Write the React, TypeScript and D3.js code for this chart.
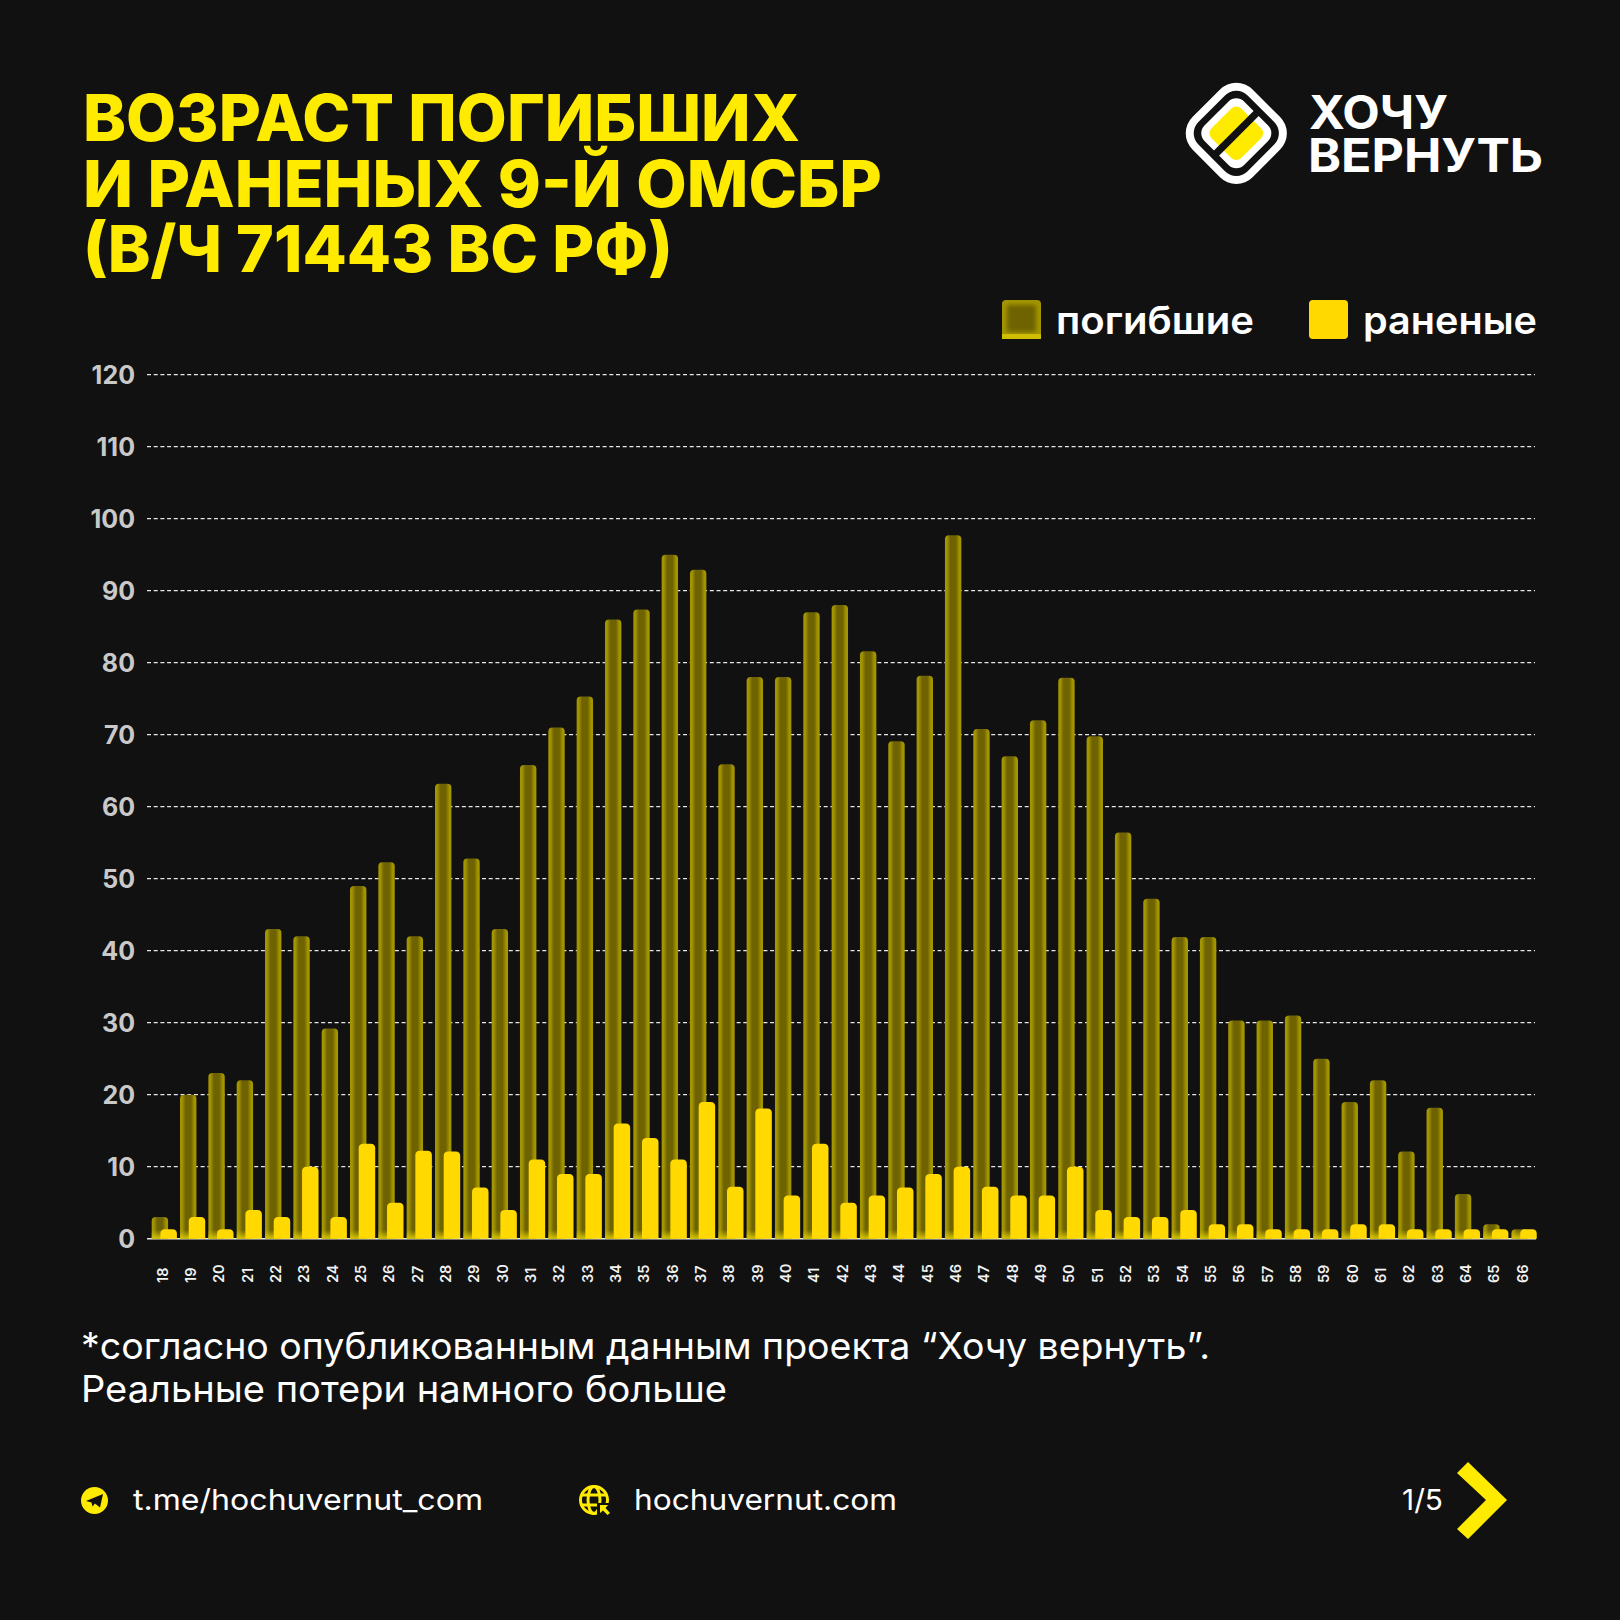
import React from "react";
import * as d3 from "d3";

const ages = d3.range(18, 67).map(String);
const killed = [3,20,23,22,43,42,29.2,49,52.3,42,63.2,52.8,43,65.8,71,75.3,86,87.4,95,92.9,65.9,78,78,87,88,81.6,69.1,78.2,97.7,70.8,67,72,77.9,69.8,56.4,47.2,41.9,41.9,30.3,30.3,31,25,19,22,12.1,18.2,6.2,2,1.3];
const wounded = [1.3,3,1.3,4,3,10,3,13.2,5,12.2,12.1,7.1,4,11,9,9,16,14,11,19,7.2,18.1,6,13.2,5,6,7.1,9,10,7.2,6,6,10,4,3,3,4,2,2,1.3,1.3,1.3,2,2,1.3,1.3,1.3,1.3,1.3];
const yTicks = d3.range(0, 130, 10);
const titleLines = ["ВОЗРАСТ ПОГИБШИХ", "И РАНЕНЫХ 9-Й ОМСБР", "(В/Ч 71443 ВС РФ)"];
const titleWidths = [717, 799, 590];
const noteLines = ["*согласно опубликованным данным проекта “Хочу вернуть”.", "Реальные потери намного больше"];
const noteWidths = [1129, 646];

const BG = "#111111";
const YEL = "#FFEB00";
const BAR = "#FFD900";
const FONT = "Inter, 'Noto Sans', sans-serif";

const x = d3.scaleBand<string>().domain(ages).range([151.7, 151.7 + 28.33 * 49]);
const y = d3.scaleLinear().domain([0, 120]).range([1238.7, 374.7]);

function topRounded(x0: number, y0: number, w: number, h: number, r: number) {
  const rr = Math.min(r, h);
  const p = d3.path();
  p.moveTo(x0, y0 + h);
  p.lineTo(x0, y0 + rr);
  p.quadraticCurveTo(x0, y0, x0 + rr, y0);
  p.lineTo(x0 + w - rr, y0);
  p.quadraticCurveTo(x0 + w, y0, x0 + w, y0 + rr);
  p.lineTo(x0 + w, y0 + h);
  p.closePath();
  return p.toString();
}

function DeadBar({ age, v }: { age: string; v: number }) {
  const X = x(age)!;
  const w = 16.4;
  const top = y(v);
  const h = y(0) - top;
  const d = topRounded(X, top, w, h, 4);
  const fadeH = Math.min(9, h);
  return (
    <g>
      <path d={d} fill="url(#deadH)" />
      <path d={topRounded(X, y(0) - fadeH, w, fadeH, 0)} fill="url(#deadV)" />
    </g>
  );
}

export default function App() {
  return (
    <svg width={1620} height={1620} viewBox="0 0 1620 1620" style={{ position: "absolute", left: 0, top: 0, display: "block", background: BG }}>
      <defs>
        <linearGradient id="deadH" x1="0" x2="1" y1="0" y2="0">
          <stop offset="0" stopColor="#A39500" />
          <stop offset="0.12" stopColor="#A39500" />
          <stop offset="0.34" stopColor="#6E6300" />
          <stop offset="0.66" stopColor="#6E6300" />
          <stop offset="0.88" stopColor="#A39500" />
          <stop offset="1" stopColor="#A39500" />
        </linearGradient>
        <linearGradient id="deadV" x1="0" x2="0" y1="0" y2="1">
          <stop offset="0" stopColor="#C9B800" stopOpacity="0" />
          <stop offset="1" stopColor="#D8C600" stopOpacity="1" />
        </linearGradient>
        <filter id="soft" x="-20%" y="-20%" width="140%" height="140%">
          <feGaussianBlur stdDeviation="2" />
        </filter>
      </defs>
      <rect width={1620} height={1620} fill={BG} />

      {titleLines.map((t, i) => (
        <text key={t} x={83} y={141 + i * 65.7} fill={YEL} fontFamily={FONT} fontWeight={800} fontSize={65} textLength={titleWidths[i]} lengthAdjust="spacingAndGlyphs">{t}</text>
      ))}

      {/* logo */}
      <g transform="translate(1236.3 133.3) rotate(-45)">
        <rect x={-42.5} y={-42.5} width={85} height={85} rx={23} fill="#fff" />
        <rect x={-34.8} y={-34.8} width={69.6} height={69.6} rx={16} fill="#111" />
        <rect x={-28} y={-28} width={56} height={56} rx={11} fill="#fff" />
        <rect x={-21} y={-21} width={42} height={42} rx={7} fill={YEL} />
        <rect x={-33} y={-3.6} width={66} height={7.2} fill="#111" />
      </g>
      <text x={1309} y={128.5} fill="#fff" fontFamily={FONT} fontWeight={700} fontSize={46} textLength={139} lengthAdjust="spacingAndGlyphs">ХОЧУ</text>
      <text x={1308} y={172} fill="#fff" fontFamily={FONT} fontWeight={700} fontSize={46} textLength={235} lengthAdjust="spacingAndGlyphs">ВЕРНУТЬ</text>

      {/* legend */}
      <rect x={1002} y={300} width={39} height={39} rx={4} fill="#A39500" />
      <rect x={1007} y={305} width={29} height={27} rx={2} fill="#6E6300" filter="url(#soft)" />
      <rect x={1002} y={334} width={39} height={5} fill="#D0BE00" />
      <text x={1056} y={334} fill="#fff" fontFamily={FONT} fontWeight={600} fontSize={38} textLength={198} lengthAdjust="spacingAndGlyphs">погибшие</text>
      <rect x={1309} y={300} width={39} height={39} rx={4} fill={BAR} />
      <text x={1363} y={334} fill="#fff" fontFamily={FONT} fontWeight={600} fontSize={38} textLength={174} lengthAdjust="spacingAndGlyphs">раненые</text>

      {/* grid */}
      {yTicks.map((t) => (
        <g key={t}>
          {t > 0 && <line x1={147} x2={1535} y1={y(t)} y2={y(t)} stroke="#e8e8e8" strokeWidth={1.3} strokeDasharray="4 2.7" />}
          <text x={135} y={y(t) + 9.5} textAnchor="end" fill="#c9c9c9" fontFamily={FONT} fontWeight={700} fontSize={25}>{t}</text>
        </g>
      ))}
      <line x1={147} x2={1536} y1={y(0)} y2={y(0)} stroke="#e8e8e8" strokeWidth={1.5} />

      {/* bars */}
      {ages.map((a, i) => <DeadBar key={a} age={a} v={killed[i]} />)}
      {ages.map((a, i) => (
        <path key={a} d={topRounded(x(a)! + 8.7, y(wounded[i]), 16.5, y(0) - y(wounded[i]), 4.5)} fill={BAR} />
      ))}

      {/* x labels */}
      {ages.map((a) => (
        <text key={a} transform={`translate(${x(a)! + 16} 1283) rotate(-90)`} fill="#f2f2f2" fontFamily={FONT} fontWeight={600} fontSize={14.5}>{a}</text>
      ))}

      {noteLines.map((t, i) => (
        <text key={t} x={81} y={1359 + i * 43} fill="#fff" fontFamily={FONT} fontWeight={400} fontSize={37} textLength={noteWidths[i]} lengthAdjust="spacingAndGlyphs">{t}</text>
      ))}

      {/* footer */}
      <circle cx={94.5} cy={1500.5} r={13.5} fill={YEL} />
      <path d="M86 1501 L103 1494 L100 1507.5 L95 1503.5 L92.5 1506.5 L91.5 1502.5 Z" fill="#111" />
      <text x={133} y={1510} fill="#fff" fontFamily={FONT} fontWeight={400} fontSize={29} textLength={350} lengthAdjust="spacingAndGlyphs">t.me/hochuvernut_com</text>

      <g fill="none" stroke={YEL} strokeWidth={3}>
        <circle cx={594} cy={1500} r={13.5} />
        <ellipse cx={594} cy={1500} rx={6} ry={13.5} />
        <line x1={581} x2={607} y1={1495} y2={1495} />
        <line x1={581} x2={607} y1={1505} y2={1505} />
      </g>
      <rect x={597} y={1503} width={14} height={14} fill={BG} />
      <path d="M600 1505 L608 1505 L605.5 1508 L610 1513 L607.5 1515 L603 1510.5 L600 1513 Z" fill={YEL} />
      <text x={634} y={1510} fill="#fff" fontFamily={FONT} fontWeight={400} fontSize={29} textLength={263} lengthAdjust="spacingAndGlyphs">hochuvernut.com</text>

      <text x={1402} y={1510} fill="#fff" fontFamily={FONT} fontWeight={400} fontSize={29} textLength={41} lengthAdjust="spacingAndGlyphs">1/5</text>
      <path d="M1468 1462 L1507 1500 L1468 1539 L1457 1529 L1486 1500 L1457 1473 Z" fill={YEL} />
    </svg>
  );
}
